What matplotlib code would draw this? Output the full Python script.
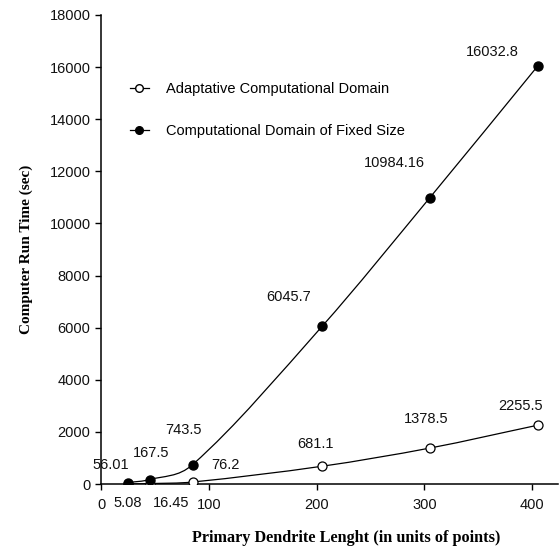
import matplotlib
matplotlib.use("Agg")
import matplotlib.pyplot as plt
from matplotlib.path import Path
from matplotlib.patches import PathPatch

# data
lengths = [25, 45, 85, 205, 305, 405]
adaptive = [5.08, 16.45, 76.2, 681.1, 1378.5, 2255.5]
fixed = [56.01, 167.5, 743.5, 6045.7, 10984.16, 16032.8]
adaptive_labels = ["5.08", "16.45", "76.2", "681.1", "1378.5", "2255.5"]
fixed_labels = ["56.01", "167.5", "743.5", "6045.7", "10984.16", "16032.8"]

# label offsets in pixels (dx, dy) relative to each point
adaptive_off = [(0, -19), (22, -19), (33, 17), (-6, 22), (-4, 29), (-17, 19)]
fixed_off = [(-17, 18), (2, 27), (-9, 35), (-33, 29), (-35, 35), (-45, 14)]


def smooth_path(xs, ys):
    # smoothed line like the spreadsheet one: hermite tangents from the
    # neighbours, written as cubic bezier segments
    n = len(xs)
    m = []
    for i in range(n):
        a = max(i - 1, 0)
        b = min(i + 1, n - 1)
        m.append((ys[b] - ys[a]) / (xs[b] - xs[a]))
    verts = [(xs[0], ys[0])]
    codes = [Path.MOVETO]
    for i in range(n - 1):
        h = (xs[i + 1] - xs[i]) / 3
        verts += [(xs[i] + h, ys[i] + m[i] * h),
                  (xs[i + 1] - h, ys[i + 1] - m[i + 1] * h),
                  (xs[i + 1], ys[i + 1])]
        codes += [Path.CURVE4] * 3
    return Path(verts, codes)


def main():
    plt.rcParams["font.family"] = ["Liberation Sans", "DejaVu Sans"]
    fig = plt.figure(figsize=(5.6, 5.53), dpi=100)
    ax = fig.add_axes([101 / 560, 1 - 484 / 553, 457 / 560, 469 / 553])

    for ys in (adaptive, fixed):
        ax.add_patch(PathPatch(smooth_path(lengths, ys), facecolor="none",
                               edgecolor="black", lw=0.9, zorder=2))

    ax.plot(lengths, adaptive, ls="none", marker="o", ms=6.5, mfc="white",
            mec="black", mew=0.9, zorder=3)
    ax.plot(lengths, fixed, ls="none", marker="o", ms=6.5, mfc="black",
            mec="black", zorder=3)

    for x, y, t, (dx, dy) in zip(lengths, adaptive, adaptive_labels, adaptive_off):
        ax.annotate(t, (x, y), xytext=(dx, dy), textcoords="offset pixels",
                    ha="center", va="center", fontsize=10.5, color="#111111")
    for x, y, t, (dx, dy) in zip(lengths, fixed, fixed_labels, fixed_off):
        ax.annotate(t, (x, y), xytext=(dx, dy), textcoords="offset pixels",
                    ha="center", va="center", fontsize=10.5, color="#111111")

    # legend without frame, placed where the original has it
    ax.plot([], [], color="black", lw=0.9, marker="o", ms=5.5, mfc="white",
            label="Adaptative Computational Domain")
    ax.plot([], [], color="black", lw=0.9, marker="o", ms=5.5, mfc="black",
            label="Computational Domain of Fixed Size")
    ax.legend(loc="upper left", bbox_to_anchor=(130 / 560, 1 - 82 / 553),
              bbox_transform=fig.transFigure, frameon=False, borderpad=0,
              borderaxespad=0, fontsize=10.5, handlelength=1.3,
              handletextpad=1.2, labelspacing=1.9, numpoints=1)

    ax.set_xlim(0, 424)
    ax.set_ylim(0, 18000)
    ax.set_xticks([0, 100, 200, 300, 400])
    ax.set_yticks(range(0, 18001, 2000))
    ax.spines["top"].set_visible(False)
    ax.spines["right"].set_visible(False)
    ax.spines["left"].set_linewidth(1.1)
    ax.spines["bottom"].set_linewidth(1.1)
    ax.tick_params(direction="out", length=4, width=1, labelsize=10.5,
                   labelcolor="#111111")
    ax.tick_params(axis="x", pad=6)

    ax.set_xlabel("Primary Dendrite Lenght (in units of points)",
                  family="Liberation Serif", fontweight="bold", fontsize=11.7)
    ax.xaxis.set_label_coords(0.536, -0.098)
    ax.set_ylabel("Computer Run Time (sec)", family="Liberation Serif",
                  fontweight="bold", fontsize=11, labelpad=12)

    fig.savefig("out.png", dpi=100)


if __name__ == "__main__":
    main()
